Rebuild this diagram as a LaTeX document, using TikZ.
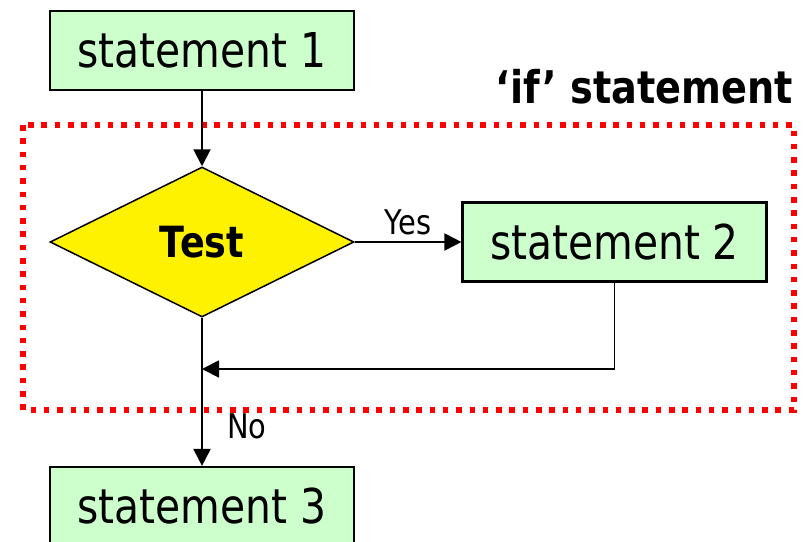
\documentclass[tikz,border=0pt]{standalone}
\usepackage{fontspec}
\setmainfont[FakeStretch=0.85]{DejaVu Sans}
\usepackage{tikz}
\usetikzlibrary{positioning,arrows.meta,shapes.geometric}

\definecolor{boxgreen}{HTML}{CCFFCC}

\begin{document}
\begin{tikzpicture}[x=1pt,y=-1pt,node distance=100pt,on grid,
    stmt/.style={draw,fill=boxgreen,line width=2.2pt,inner sep=0pt,
                 minimum width=304pt,minimum height=79pt,
                 font=\fontsize{48}{56}\selectfont},
    test/.style={diamond,draw,fill=yellow,line width=1.5pt,inner sep=0pt,
                 minimum width=304pt,minimum height=150pt,
                 font=\fontsize{43}{50}\selectfont\bfseries},
    lbl/.style={font=\fontsize{34}{40}\selectfont,inner sep=0pt},
    flow/.style={line width=2pt,-{Triangle[length=17pt,width=17pt]}}]
    \clip (0,0) rectangle (811,541);
    \useasboundingbox (0,0) rectangle (811,541);

    % the 'if' block
    \draw[red,line width=5.5pt,dash pattern=on 5.5pt off 7.8pt] (23,125) rectangle (794,410);
    \node[anchor=base east,inner sep=0pt,font=\fontsize{45}{52}\selectfont\bfseries]
        (title) at (793,103) {`if' statement};

    \node[stmt]  (st1) at (202,50.5)            {statement 1};
    \node[test]  (test) [below = 191.5pt of st1] {Test};
    \node[stmt]  (st2) [right = 412.5pt of test] {statement 2};
    \node[stmt]  (st3) [below = 264.5pt of test] {statement 3};
    \coordinate[below = 127pt of test] (join);

    \path[flow]
    (st1)        edge                                               (test)
    (test.east)  edge node[lbl,above=6pt]                     {Yes} (st2.west)
    (test.south) edge node[lbl,right=24pt,pos=0.73,anchor=west] {No}  (st3.north)
    ;
    \draw[flow,line width=1.8pt] (st2.south) |- (join);
\end{tikzpicture}
\end{document}
